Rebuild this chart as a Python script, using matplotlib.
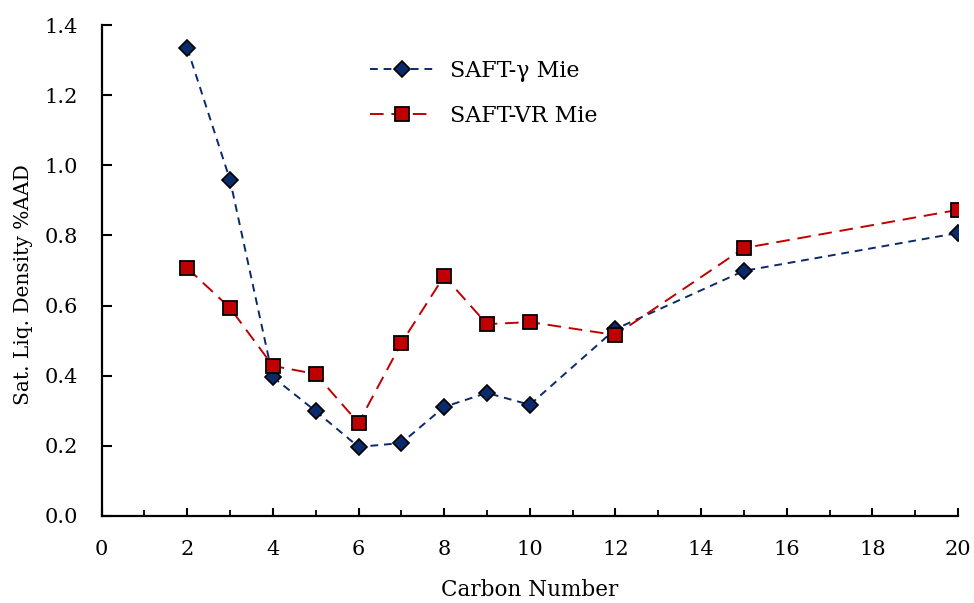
import matplotlib
matplotlib.use("Agg")
import matplotlib.pyplot as plt
from matplotlib.ticker import MultipleLocator, FormatStrFormatter

plt.rcParams['font.family'] = ['DejaVu Serif']

carbon = [2, 3, 4, 5, 6, 7, 8, 9, 10, 12, 15, 20]
saft_gamma = [1.334, 0.958, 0.396, 0.299, 0.197, 0.208, 0.311, 0.351, 0.317, 0.533, 0.699, 0.807]
saft_vr = [0.707, 0.593, 0.428, 0.405, 0.265, 0.493, 0.684, 0.547, 0.553, 0.516, 0.764, 0.873]

fig = plt.figure(figsize=(9.74, 6.03), dpi=100)
ax = fig.add_axes([0.1043, 0.1443, 0.8793, 0.8142])

ax.plot(carbon, saft_gamma, color='#0a2a6b', lw=1.4, linestyle=(0, (4, 3)),
        marker='D', ms=8.5, mfc='#0a2a6b', mec='black', mew=1.2, label='SAFT-γ Mie')
ax.plot(carbon, saft_vr, color='#c00000', lw=1.4, linestyle=(0, (7, 4)),
        marker='s', ms=10, mfc='#c00000', mec='black', mew=1.3, label='SAFT-VR Mie')

ax.set_xlim(0, 20)
ax.set_ylim(0, 1.4)
ax.xaxis.set_major_locator(MultipleLocator(2))
ax.xaxis.set_minor_locator(MultipleLocator(1))
ax.yaxis.set_major_locator(MultipleLocator(0.2))
ax.yaxis.set_major_formatter(FormatStrFormatter('%.1f'))

for s in ['top', 'right']:
    ax.spines[s].set_visible(False)
for s in ['left', 'bottom']:
    ax.spines[s].set_linewidth(1.6)

ax.tick_params(axis='both', which='major', direction='in', width=1.5, labelsize=15)
ax.tick_params(axis='y', which='major', length=7, pad=17)
ax.tick_params(axis='x', which='major', length=5.5, pad=17)
ax.tick_params(axis='x', which='minor', direction='in', length=4, width=1.3)
ax.tick_params(axis='y', which='minor', left=False)

ax.set_xlabel('Carbon Number', fontsize=15.5, labelpad=15)
ax.set_ylabel('Sat. Liq. Density %AAD', fontsize=14.5)
ax.yaxis.set_label_coords(-0.08, 0.472)

ax.legend(loc='upper left', bbox_to_anchor=(0.29, 0.97), frameon=False,
          fontsize=16, handlelength=2.9, labelspacing=1.05, handletextpad=0.7)

fig.savefig('out.png', dpi=100)
